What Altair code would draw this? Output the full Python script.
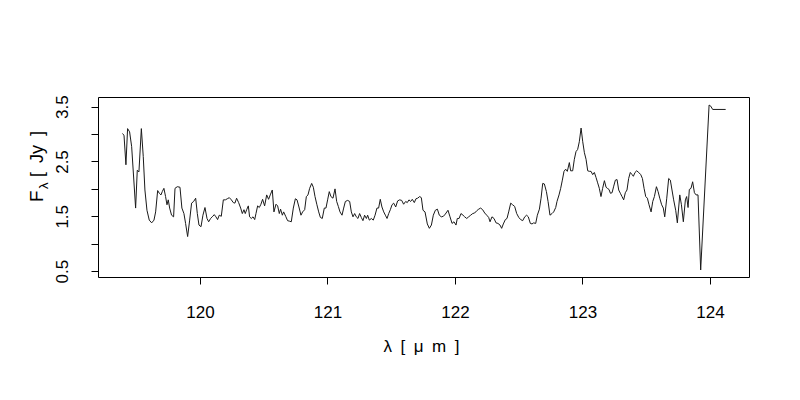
import altair as alt
import pandas as pd

# wavelength [micron]
lam = [
    119.391, 119.404, 119.419, 119.432, 119.448, 119.464, 119.495, 119.508, 119.521, 119.540,
    119.555, 119.568, 119.584, 119.602, 119.621, 119.639, 119.652, 119.668, 119.681, 119.694,
    119.704, 119.717, 119.730, 119.741, 119.751, 119.762, 119.777, 119.793, 119.804, 119.822,
    119.843, 119.858, 119.874, 119.887, 119.903, 119.919, 119.934, 119.950, 119.966, 119.979,
    119.992, 120.008, 120.023, 120.039, 120.055, 120.068, 120.083, 120.096, 120.112, 120.125,
    120.138, 120.151,
    120.167, 120.183, 120.199, 120.214, 120.230, 120.246, 120.261, 120.274, 120.287, 120.303,
    120.319, 120.332, 120.345, 120.355, 120.366, 120.379, 120.389, 120.402, 120.416, 120.429,
    120.439, 120.452, 120.465, 120.478, 120.491, 120.507, 120.523, 120.538, 120.551, 120.567,
    120.580, 120.596, 120.609, 120.622, 120.632, 120.646, 120.656, 120.672, 120.687, 120.703,
    120.716, 120.732, 120.748, 120.761, 120.776, 120.792, 120.805, 120.821, 120.834, 120.847,
    120.860, 120.876, 120.889, 120.902, 120.917, 120.931, 120.944, 120.959,
    120.975, 120.988, 121.001, 121.014, 121.027, 121.043, 121.059, 121.072, 121.085, 121.098,
    121.114, 121.127, 121.140, 121.158, 121.174, 121.187, 121.200, 121.213, 121.226, 121.239,
    121.252, 121.265, 121.278, 121.291, 121.305, 121.315, 121.328, 121.344, 121.359, 121.373,
    121.388, 121.401, 121.414, 121.427, 121.441, 121.454, 121.467, 121.480, 121.493, 121.506,
    121.519, 121.535, 121.550, 121.566, 121.582, 121.597, 121.613, 121.626, 121.639, 121.652,
    121.665, 121.681, 121.694, 121.707, 121.723, 121.736, 121.749, 121.765,
    121.783, 121.799, 121.815, 121.830, 121.846, 121.862, 121.877, 121.893, 121.909, 121.924,
    121.945, 121.961, 121.977, 121.992, 122.008, 122.018, 122.032, 122.047, 122.063, 122.076,
    122.092, 122.107, 122.123, 122.139, 122.154, 122.170, 122.186, 122.201, 122.217, 122.233,
    122.249, 122.264, 122.275, 122.290, 122.306, 122.322, 122.337, 122.353, 122.366, 122.379,
    122.395, 122.408, 122.421, 122.437, 122.452, 122.468, 122.484, 122.500, 122.515, 122.531,
    122.547, 122.562, 122.575,
    122.591, 122.604, 122.617, 122.633, 122.646, 122.662, 122.675, 122.688, 122.701, 122.717,
    122.730, 122.745, 122.761, 122.774, 122.790, 122.800, 122.816, 122.829, 122.842, 122.855,
    122.868, 122.881, 122.897, 122.907, 122.923, 122.936, 122.949, 122.962, 122.975, 122.989,
    123.002, 123.015, 123.028, 123.041, 123.054, 123.067, 123.080, 123.093, 123.106, 123.119,
    123.132, 123.145, 123.158, 123.172, 123.185, 123.195, 123.208, 123.219, 123.232, 123.245,
    123.258, 123.271, 123.284, 123.297, 123.310, 123.323, 123.336, 123.349, 123.362, 123.375,
    123.389,
    123.399, 123.412, 123.425, 123.441, 123.457, 123.470, 123.483, 123.496, 123.509, 123.522,
    123.538, 123.551, 123.564, 123.580, 123.593, 123.606, 123.621, 123.634, 123.645, 123.661,
    123.676, 123.689, 123.702, 123.715, 123.731, 123.744, 123.763, 123.776, 123.791, 123.807,
    123.817, 123.828, 123.838, 123.851, 123.864, 123.878, 123.891, 123.906, 123.927, 123.993,
    124.006, 124.021, 124.123,
]

# flux density [Jy]
flux = [
    3.01, 2.98, 2.44, 3.10, 3.04, 2.77, 1.65, 2.34, 2.31, 3.10,
    2.59, 1.98, 1.61, 1.43, 1.38, 1.43, 1.58, 1.97, 1.92, 1.89,
    1.95, 2.01, 1.86, 1.71, 1.80, 1.65, 1.52, 1.49, 2.01, 2.04,
    2.03, 1.65, 1.55, 1.37, 1.13, 1.43, 1.74, 1.77, 1.83, 1.55,
    1.34, 1.31, 1.52, 1.66, 1.46, 1.40, 1.46, 1.49, 1.53, 1.49,
    1.44, 1.52,
    1.50, 1.80, 1.80, 1.82, 1.84, 1.80, 1.75, 1.74, 1.83, 1.75,
    1.65, 1.55, 1.62, 1.55, 1.62, 1.69, 1.49, 1.46, 1.49, 1.44,
    1.55, 1.69, 1.66, 1.72, 1.81, 1.69, 1.89, 1.81, 1.89, 1.98,
    1.58, 1.72, 1.69, 1.55, 1.63, 1.52, 1.58, 1.50, 1.42, 1.41,
    1.40, 1.65, 1.82, 1.80, 1.67, 1.52, 1.58, 1.62, 1.86, 1.89,
    2.01, 2.10, 2.03, 1.86, 1.71, 1.58, 1.48, 1.46,
    1.65, 1.65, 1.80, 1.95, 1.86, 1.83, 2.00, 1.77, 1.68, 1.58,
    1.52, 1.65, 1.77, 1.79, 1.77, 1.58, 1.49, 1.55, 1.49, 1.46,
    1.55, 1.48, 1.42, 1.52, 1.46, 1.52, 1.43, 1.46, 1.43, 1.52,
    1.65, 1.65, 1.81, 1.67, 1.58, 1.52, 1.46, 1.55, 1.62, 1.71,
    1.74, 1.67, 1.78, 1.80, 1.79, 1.72, 1.77, 1.75, 1.80, 1.77,
    1.81, 1.75, 1.82, 1.83, 1.86, 1.84, 1.61, 1.58,
    1.36, 1.28, 1.34, 1.52, 1.61, 1.63, 1.52, 1.49, 1.50, 1.54,
    1.61, 1.49, 1.37, 1.40, 1.34, 1.46, 1.46, 1.55, 1.52, 1.49,
    1.46, 1.49, 1.52, 1.55, 1.56, 1.60, 1.63, 1.65, 1.62, 1.56,
    1.52, 1.48, 1.40, 1.49, 1.46, 1.38, 1.37, 1.34, 1.28, 1.36,
    1.44, 1.46, 1.58, 1.74, 1.71, 1.68, 1.55, 1.48, 1.44, 1.42,
    1.49, 1.52, 1.49,
    1.37, 1.36, 1.38, 1.37, 1.52, 1.63, 1.83, 2.10, 2.09, 1.95,
    1.77, 1.52, 1.55, 1.58, 1.66, 1.77, 1.89, 2.01, 2.16, 2.32,
    2.36, 2.32, 2.48, 2.33, 2.33, 2.54, 2.68, 2.72, 2.86, 3.11,
    2.86, 2.66, 2.54, 2.33, 2.32, 2.32, 2.26, 2.30, 2.21, 2.11,
    2.01, 1.86, 2.01, 2.15, 2.03, 2.01, 1.99, 1.92, 1.93, 2.05,
    2.16, 2.17, 1.98, 1.92, 1.86, 1.80, 1.93, 1.98, 2.19, 2.30,
    2.26,
    2.23, 2.30, 2.33, 2.30, 2.26, 2.19, 2.01, 1.86, 1.83, 1.71,
    1.58, 1.77, 1.86, 2.04, 1.95, 1.83, 1.71, 1.65, 1.49, 1.83,
    2.19, 2.16, 1.98, 1.80, 1.61, 1.38, 1.89, 1.71, 1.40, 1.80,
    1.86, 1.66, 1.99, 2.01, 2.13, 1.93, 1.89, 1.89, 0.52, 3.53,
    3.51, 3.45, 3.45,
]

x_ticks = [120, 121, 122, 123, 124]
y_ticks = [0.5, 1.0, 1.5, 2.0, 2.5, 3.0, 3.5]

FONT = "Liberation Sans"
W, H = 651, 180
SP = "\u2002"

df = pd.DataFrame({"lam": lam, "flux": flux})

line = alt.Chart(df).mark_line(color="#1a1a1a", strokeWidth=1, interpolate="linear").encode(
    x=alt.X(
        "lam:Q",
        scale=alt.Scale(domain=[119.2, 124.306], nice=False, zero=False),
        axis=alt.Axis(
            values=x_ticks, format="d", grid=False, domain=False,
            tickSize=7, tickColor="black", tickWidth=1,
            labelFont=FONT, labelFontSize=17, labelColor="black",
            labelBaseline="alphabetic", labelPadding=33, labelFlush=False,
            title=None,
        ),
    ),
    y=alt.Y(
        "flux:Q",
        scale=alt.Scale(domain=[0.392, 3.677], nice=False, zero=False),
        axis=alt.Axis(
            values=y_ticks, grid=False, domain=False,
            labelExpr="(datum.value * 2) % 2 == 0 ? '' : format(datum.value, '.1f')",
            tickSize=7, tickColor="black", tickWidth=1,
            labelFont=FONT, labelFontSize=17, labelColor="black",
            labelAngle=270, labelAlign="center", labelBaseline="alphabetic",
            labelPadding=24, labelFlush=False, labelOverlap=False,
            title=None,
        ),
    ),
)

one = pd.DataFrame({"k": [0]})

def txt(s, x, y, size=17, angle=0, align="center"):
    return alt.Chart(one).mark_text(
        text=s, font=FONT, fontSize=size, color="black", angle=angle,
        align=align, baseline="alphabetic",
    ).encode(x=alt.value(x), y=alt.value(y))

xtitle = txt(SP.join(["λ", "[", "μ", "m", "]"]), 323.5, 255, size=17)

yF = txt("F", -55, 105, size=19, angle=270, align="left")
yL = txt("λ", -50, 92, size=13, angle=270, align="left")
yJ = txt(SP.join(["[", "Jy", "]"]), -55, 80, size=18, angle=270, align="left")

chart = alt.layer(line, xtitle, yF, yL, yJ).properties(
    width=W, height=H,
    padding={"left": 90, "top": 89, "right": 43, "bottom": 115},
    autosize=alt.AutoSizeParams(type="none"),
).configure(background="white").configure_view(stroke="black", strokeWidth=1)

chart.save("out.html", embed_options={"renderer": "svg", "actions": False})
